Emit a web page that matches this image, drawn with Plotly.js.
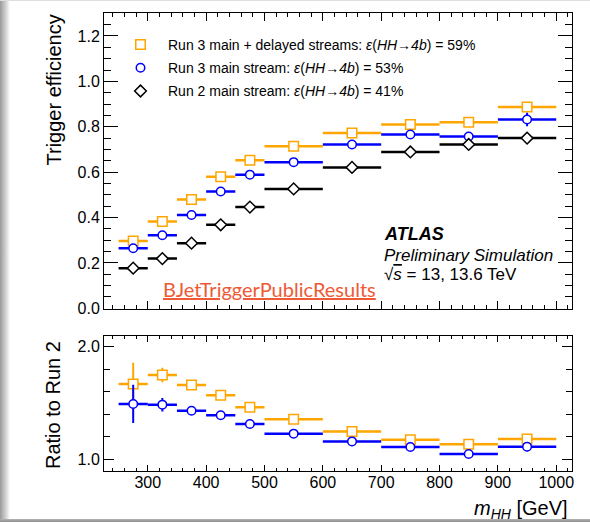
<!DOCTYPE html>
<html>
<head>
<meta charset="utf-8">
<script src="https://cdn.plot.ly/plotly-3.0.1.min.js"></script>
<style>
  body { margin: 0; padding: 0; background: #fff; }
  #wrap {
    width: 590px; height: 522px; position: relative; overflow: hidden;
    background:
      linear-gradient(to bottom, #dedede 0px, #dedede 1px, rgba(255,255,255,0) 1px),
      linear-gradient(to top, #8c8c8c 0px, #b4b4b4 3px, rgba(255,255,255,0) 3px),
      linear-gradient(to right, #9a9a9a 0px, #d4d4d4 6px, #ffffff 10px);
  }
  #chart { width: 590px; height: 522px; }
</style>
</head>
<body>
<div id="wrap"><div id="chart"></div></div>
<script>
// ---- data ----
const massCenter = [275, 325, 375, 425, 475, 550, 650, 750, 850, 950];
const massHalfWidth = [25, 25, 25, 25, 25, 50, 50, 50, 50, 50];

const effRun3Delayed = [0.297, 0.383, 0.479, 0.580, 0.652, 0.714, 0.772, 0.810, 0.820, 0.887];
const effRun3Delayed_err = [0.012, 0.008, 0.006, 0.005, 0.005, 0.004, 0.006, 0.008, 0.012, 0.022];
const effRun3Main = [0.265, 0.322, 0.411, 0.515, 0.589, 0.644, 0.722, 0.766, 0.757, 0.832];
const effRun3Main_err = [0.012, 0.008, 0.006, 0.005, 0.005, 0.004, 0.006, 0.008, 0.015, 0.030];
const effRun2Main = [0.177, 0.219, 0.287, 0.368, 0.446, 0.526, 0.621, 0.689, 0.722, 0.750];
const effRun2Main_err = [0.006, 0.005, 0.004, 0.004, 0.004, 0.003, 0.005, 0.007, 0.010, 0.012];

const ratioRun3Delayed = [1.668, 1.748, 1.659, 1.567, 1.460, 1.353, 1.246, 1.172, 1.131, 1.178];
const ratioRun3Delayed_err = [0.19, 0.065, 0.02, 0.015, 0.012, 0.01, 0.012, 0.015, 0.02, 0.03];
const ratioRun3Main = [1.490, 1.484, 1.430, 1.389, 1.312, 1.226, 1.157, 1.107, 1.045, 1.110];
const ratioRun3Main_err = [0.17, 0.06, 0.02, 0.015, 0.012, 0.01, 0.012, 0.015, 0.025, 0.04];

const legendNames = [
  'Run 3 main + delayed streams: <i>\u03B5</i>(<i>HH</i>\u2192<i>4b</i>) = 59%',
  'Run 3 main stream: <i>\u03B5</i>(<i>HH</i>\u2192<i>4b</i>) = 53%',
  'Run 2 main stream: <i>\u03B5</i>(<i>HH</i>\u2192<i>4b</i>) = 41%'
];
const xTickVals = [300, 400, 500, 600, 700, 800, 900, 1000];

// ---- styling helpers ----
const W = 590, H = 522;
const px = v => v / W;
const py = v => 1 - v / H;
const ORANGE = '#ffa500', BLUE = '#0000ff', BLACK = '#000000';

function series(x, y, ey, color, symbol, size, name, xa, ya, showlegend, group) {
  return {
    type: 'scatter', mode: 'markers', x: x, y: y, name: name,
    xaxis: xa, yaxis: ya, showlegend: showlegend, legendgroup: group,
    marker: { symbol: symbol, size: size, color: '#ffffff', line: { color: color, width: 1.5 } },
    error_x: { type: 'data', array: massHalfWidth, color: color, thickness: 2.5, width: 0 },
    error_y: { type: 'data', array: ey, color: color, thickness: 2, width: 0 },
    hoverinfo: 'skip'
  };
}

const traces = [
  series(massCenter, effRun3Delayed, effRun3Delayed_err, ORANGE, 'square', 9.5, legendNames[0], 'x', 'y', true, 'a'),
  series(massCenter, effRun3Main, effRun3Main_err, BLUE, 'circle', 8.5, legendNames[1], 'x', 'y', true, 'b'),
  series(massCenter, effRun2Main, effRun2Main_err, BLACK, 'diamond', 9, legendNames[2], 'x', 'y', true, 'c'),
  series(massCenter, ratioRun3Delayed, ratioRun3Delayed_err, ORANGE, 'square', 9.5, 'r1', 'x2', 'y2', false, 'a'),
  series(massCenter, ratioRun3Main, ratioRun3Main_err, BLUE, 'circle', 8.5, 'r2', 'x2', 'y2', false, 'b')
];

const tickFont = { family: 'Liberation Sans, Arial, sans-serif', size: 16, color: '#000' };
const baseAxis = {
  showline: true, linecolor: '#000', linewidth: 1, mirror: 'allticks',
  ticks: 'inside', tickcolor: '#000', tickwidth: 1, showgrid: false, zeroline: false,
  tickfont: tickFont, automargin: false
};

const layout = {
  width: W, height: H,
  margin: { l: 0, r: 0, t: 0, b: 0 },
  paper_bgcolor: 'rgba(0,0,0,0)', plot_bgcolor: '#ffffff',
  font: { family: 'Liberation Sans, Arial, sans-serif', color: '#000' },
  showlegend: true,
  legend: {
    x: px(113), y: py(29), xanchor: 'left', yanchor: 'top',
    bgcolor: 'rgba(0,0,0,0)', font: { size: 14, color: '#000' },
    traceorder: 'grouped', tracegroupgap: 2, itemwidth: 45
  },
  xaxis: Object.assign({}, baseAxis, {
    domain: [px(104), px(572)], range: [225, 1027], anchor: 'y',
    showticklabels: false, tickmode: 'array', tickvals: xTickVals, ticklen: 8,
    minor: { ticks: 'inside', ticklen: 4, dtick: 20, tick0: 0, tickcolor: '#000', showgrid: false }
  }),
  yaxis: Object.assign({}, baseAxis, {
    domain: [1 - 309.3 / H, 1 - 13.3 / H], range: [-0.0044, 1.30], anchor: 'x',
    dtick: 0.2, tick0: 0, tickformat: '.1f', ticklen: 14,
    minor: { ticks: 'inside', ticklen: 7, dtick: 0.05, tick0: 0, tickcolor: '#000', showgrid: false }
  }),
  xaxis2: Object.assign({}, baseAxis, {
    domain: [px(104), px(572)], range: [225, 1027], anchor: 'y2', matches: 'x',
    tickmode: 'array', tickvals: xTickVals, ticklen: 6, ticklabelstandoff: -3,
    minor: { ticks: 'inside', ticklen: 3, dtick: 20, tick0: 0, tickcolor: '#000', showgrid: false }
  }),
  yaxis2: Object.assign({}, baseAxis, {
    domain: [1 - 470.7 / H, 1 - 336 / H], range: [0.896, 2.095], anchor: 'x2',
    dtick: 1, tick0: 0, tickformat: '.1f', ticklen: 10,
    minor: { ticks: 'inside', ticklen: 6, dtick: 0.2, tick0: 0, tickcolor: '#000', showgrid: false }
  }),
  annotations: [
    { text: 'Trigger efficiency', xref: 'paper', yref: 'paper', x: px(53), y: py(13),
      xanchor: 'center', yanchor: 'top', textangle: -90, showarrow: false,
      font: { size: 20, color: '#000' } },
    { text: 'Ratio to Run 2', xref: 'paper', yref: 'paper', x: px(53), y: py(339),
      xanchor: 'center', yanchor: 'top', textangle: -90, showarrow: false,
      font: { size: 20, color: '#000' } },
    { text: '<i>m</i><sub><i>HH</i></sub> [GeV]', xref: 'paper', yref: 'paper', x: px(570), y: py(509),
      xanchor: 'right', yanchor: 'middle', showarrow: false,
      font: { size: 20, color: '#000' } },
    { text: '<b><i>ATLAS</i></b>', xref: 'paper', yref: 'paper', x: px(382), y: py(234),
      xanchor: 'left', yanchor: 'middle', showarrow: false,
      font: { size: 18, color: '#000' } },
    { text: '<i>Preliminary Simulation</i>', xref: 'paper', yref: 'paper', x: px(382), y: py(255),
      xanchor: 'left', yanchor: 'middle', showarrow: false,
      font: { size: 17, color: '#000' } },
    { text: '\u221A<span style="text-decoration:overline"><i>s</i></span> = 13, 13.6 TeV', xref: 'paper', yref: 'paper', x: px(382), y: py(274),
      xanchor: 'left', yanchor: 'middle', showarrow: false,
      font: { size: 17, color: '#000' } },
    { text: '<u>BJetTriggerPublicResults</u>', xref: 'paper', yref: 'paper', x: px(161), y: py(289),
      xanchor: 'left', yanchor: 'middle', showarrow: false,
      font: { family: 'Lato, sans-serif', size: 20, color: '#ee5a36' } }
  ]
};

Plotly.newPlot('chart', traces, layout, { displayModeBar: false, staticPlot: true });
</script>
</body>
</html>
